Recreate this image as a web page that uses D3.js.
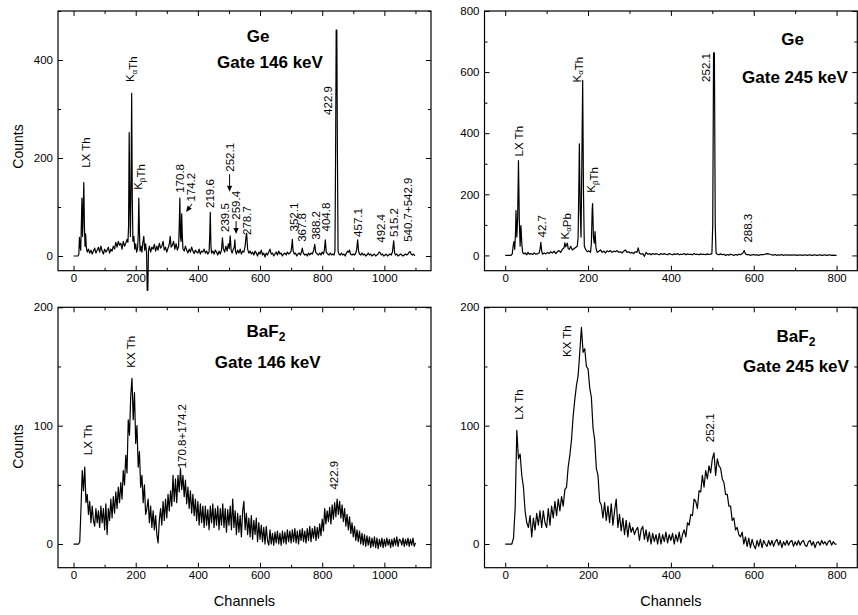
<!DOCTYPE html>
<html><head><meta charset="utf-8">
<script src="https://cdn.jsdelivr.net/npm/d3@7"></script>
<style>body{margin:0;background:#fff;} svg text{font-family:"Liberation Sans",Arial,Helvetica,sans-serif;}</style>
</head><body><svg id="c" width="858" height="615"></svg>
<script>
// ---------- DATA ----------
// Ge detector, gate 146 keV : [channel, counts]
const ge146 = [[0,0],[8,0],[14,0],[17,3],[19,38],[21,20],[23,12],[25,60],[27,118],[29,40],[31,90],[33,150],[35,60],[37,20],[39,45],[41,18],[44,8],[48,14],[52,6],[56,12],[60,4],[64,10],[68,16],[72,6],[76,12],[80,18],[84,8],[88,20],[92,10],[96,4],[100,14],[104,8],[108,12],[112,18],[116,6],[120,14],[124,10],[128,20],[132,14],[136,28],[140,18],[144,30],[148,22],[152,26],[156,14],[160,30],[164,20],[168,26],[172,34],[175,28],[177,60],[179,252],[181,110],[183,40],[185,150],[187,332],[189,120],[191,30],[194,40],[197,14],[200,25],[203,8],[206,15],[208,40],[210,118],[212,50],[214,10],[217,20],[220,8],[223,28],[226,40],[229,12],[232,25],[235,5],[237,-70],[239,-70],[241,10],[244,20],[248,8],[252,18],[256,14],[260,24],[264,10],[268,20],[272,12],[276,26],[280,16],[284,20],[288,30],[292,12],[296,18],[300,8],[304,16],[308,24],[311,40],[314,18],[318,22],[322,30],[326,14],[330,25],[334,12],[338,20],[340,60],[342,118],[344,40],[346,30],[348,86],[350,40],[352,15],[356,10],[360,20],[364,12],[368,6],[372,14],[376,8],[380,18],[384,10],[388,5],[392,12],[396,8],[400,6],[404,14],[408,4],[412,10],[416,8],[420,14],[424,6],[428,10],[432,4],[436,8],[438,40],[440,89],[442,20],[444,6],[448,10],[452,4],[456,12],[460,8],[464,2],[468,10],[472,4],[476,12],[479,37],[482,15],[486,8],[490,20],[494,10],[498,25],[501,15],[504,41],[507,12],[510,6],[514,14],[517,18],[519,33],[521,10],[524,4],[528,12],[532,6],[536,14],[540,4],[544,10],[548,8],[552,20],[555,40],[557,46],[560,14],[564,6],[568,10],[572,4],[576,8],[580,2],[584,10],[588,6],[592,0],[596,8],[600,4],[604,12],[608,2],[612,6],[616,-2],[620,6],[624,2],[628,8],[632,14],[636,4],[640,6],[644,0],[648,4],[652,8],[656,2],[660,10],[664,4],[668,6],[672,0],[676,4],[680,6],[684,2],[688,8],[692,4],[696,6],[700,10],[702,20],[704,34],[706,12],[710,4],[714,6],[718,0],[722,4],[726,6],[730,2],[733,8],[736,16],[739,6],[744,2],[748,4],[752,0],[756,6],[760,2],[764,6],[768,4],[772,10],[776,24],[779,8],[784,4],[788,2],[792,6],[796,2],[800,8],[804,4],[807,12],[810,33],[813,8],[818,4],[822,2],[826,6],[830,2],[834,4],[838,2],[841,10],[843,200],[845,461],[847,461],[849,200],[851,10],[854,4],[858,2],[862,6],[866,2],[870,4],[874,0],[878,6],[882,10],[885,8],[888,12],[891,4],[896,2],[900,4],[904,2],[908,6],[911,14],[914,33],[917,10],[920,4],[924,2],[928,6],[932,2],[936,4],[940,0],[944,2],[948,6],[952,2],[956,4],[960,0],[964,2],[968,4],[972,0],[976,2],[980,4],[983,8],[986,7],[990,2],[994,4],[998,0],[1002,2],[1006,4],[1010,0],[1014,2],[1018,4],[1022,2],[1026,8],[1028,20],[1030,31],[1033,6],[1036,2],[1040,4],[1044,0],[1048,2],[1052,4],[1056,2],[1060,0],[1064,2],[1068,4],[1072,2],[1076,4],[1080,8],[1083,9],[1086,4],[1090,2],[1094,4],[1098,0]];

// Ge detector, gate 245 keV : [channel, counts]
const ge245 = [[0,0],[8,0],[14,0],[17,5],[19,30],[21,45],[23,20],[25,80],[26,147],[28,60],[30,120],[32,310],[34,120],[36,30],[38,98],[40,40],[42,10],[45,5],[48,8],[52,2],[55,10],[58,4],[62,6],[66,3],[70,8],[74,4],[78,6],[82,8],[84,20],[86,43],[88,15],[90,4],[94,8],[98,5],[102,10],[106,6],[110,12],[114,8],[118,14],[122,6],[126,12],[130,16],[134,10],[138,20],[142,25],[144,41],[146,28],[148,35],[150,40],[152,22],[155,20],[158,30],[162,18],[166,22],[170,26],[174,30],[176,60],[178,250],[179,365],[181,150],[183,60],[185,300],[187,573],[189,200],[191,30],[194,20],[198,12],[202,15],[206,10],[208,40],[210,150],[211,170],[213,60],[215,40],[217,78],[219,25],[222,10],[226,14],[230,18],[234,10],[238,14],[242,8],[246,15],[250,12],[254,16],[258,10],[262,14],[266,12],[270,16],[274,10],[278,12],[282,8],[286,14],[290,18],[294,10],[298,12],[302,8],[306,10],[310,6],[314,12],[318,10],[321,25],[324,8],[328,4],[332,6],[336,-3],[340,10],[344,4],[348,6],[352,2],[356,6],[360,3],[364,6],[368,4],[372,2],[376,6],[380,3],[384,6],[388,4],[392,2],[396,6],[400,4],[404,2],[408,5],[412,3],[416,6],[420,2],[424,4],[428,3],[432,6],[436,2],[440,5],[444,3],[448,4],[452,2],[456,6],[460,3],[464,4],[468,2],[472,5],[476,3],[480,4],[484,2],[488,5],[492,3],[496,4],[499,6],[501,100],[503,663],[505,663],[507,100],[509,8],[512,4],[516,2],[520,5],[524,2],[528,4],[532,0],[536,3],[540,1],[544,4],[548,2],[552,0],[556,3],[560,1],[564,4],[568,2],[572,6],[575,10],[577,16],[580,5],[584,2],[588,3],[592,0],[596,2],[600,3],[604,1],[608,2],[612,0],[616,3],[620,2],[624,3],[628,4],[632,6],[636,5],[640,3],[644,2],[648,1],[652,3],[656,0],[660,2],[664,1],[668,3],[672,0],[676,2],[680,1],[684,2],[688,0],[692,2],[696,1],[700,2],[704,0],[708,1],[712,2],[716,0],[720,1],[724,2],[728,0],[732,1],[736,2],[740,0],[744,1],[748,2],[752,0],[756,1],[760,2],[764,0],[768,1],[772,2],[776,0],[780,1],[784,2],[788,0],[792,1],[796,0],[800,0]];

// BaF2 detector, gate 146 keV : counts every 4 channels from channel 0
const baf146Step = 4;
const baf146Counts = [
0,0,0,0,0,2,30,62,45,65,
35,42,25,36,18,32,20,15,30,18,
28,14,32,18,30,12,34,8,30,20,
38,22,40,26,44,30,48,35,52,38,
62,50,75,60,105,92,125,140,105,128,
85,100,65,78,48,58,35,50,25,30,
38,18,32,14,28,12,24,8,1,20,
30,16,36,20,38,22,42,28,45,32,
58,36,55,35,58,44,64,46,58,40,
54,34,48,30,45,26,42,24,38,20,
36,16,34,18,32,14,32,16,29,12,
32,18,34,14,30,16,32,12,30,16,
34,14,30,10,29,16,32,12,38,14,
28,8,26,10,24,6,28,36,12,26,
8,22,6,24,4,20,8,22,2,18,
4,16,2,14,0,15,3,-1,12,0,
9,-1,10,1,11,0,9,-1,11,1,
10,0,12,2,11,1,12,2,13,1,
11,0,12,3,13,2,11,1,13,3,
15,2,13,5,15,3,14,5,17,7,
21,11,30,17,28,19,31,17,33,21,
35,23,38,25,36,22,33,19,30,15,
25,12,23,9,18,6,15,3,12,2,
11,0,9,-1,8,-2,7,-1,6,-3,
5,-2,6,-3,5,-4,4,-2,5,-3,
4,-2,5,-1,4,-3,4,-2,5,-1,
6,-2,4,3,-1,5,-2,4,-1,5,
-2,4,-1,5,-2,1];

// BaF2 detector, gate 245 keV : counts every 4 channels from channel 0
const baf245Step = 4;
const baf245Counts = [
0,0,0,0,0,5,30,96,72,76,
58,48,28,18,14,24,6,22,12,26,
16,28,14,28,18,14,30,16,32,22,
36,24,38,28,40,32,46,48,65,75,
88,108,122,134,142,162,183,162,165,150,
148,132,124,98,88,64,58,36,33,22,
35,20,32,18,34,16,28,38,14,25,
11,22,8,20,6,18,10,14,8,12,
14,3,12,15,4,12,2,10,0,9,
2,8,0,9,0,8,2,10,1,8,
3,9,0,8,2,10,1,8,12,6,
18,16,25,24,38,36,30,45,44,58,
48,62,55,66,60,72,77,58,72,66,
64,55,52,42,42,32,32,20,22,12,
14,8,6,10,0,6,-2,5,-3,4,
-1,-4,3,-2,4,-3,3,0,-2,3,
-1,3,-2,2,4,-1,3,-3,2,-1,
3,-1,2,3,-2,2,-1,3,-1,2,
3,-1,-2,2,3,-1,2,-3,1,2,
-1,3,0,2,-1,2,3,-1,2,0,
0];

// Peak labels : [text ({..} = subscript), channel, counts where text starts]
const ge146Labels = [["LX Th",39,180],["K{α}Th",181,355],["K{β}Th",207,135],["170.8",341,129],["174.2",379,111],["219.6",438,98],["239.5",486,49],["252.1",502,172],["259.4",523,74],["278.7",557,43],["352.1",710,50],["367.8",735,29],["388.2",780,33],["404.8",812,50],["422.9",818,288],["457.1",914,39],["492.4",989,27],["515.2",1031,39],["540.7+542.9",1074,29]];
const ge146Arrows = [[381,106,362,90],[502,167,502,131],[523,71,523,45]];
const ge245Labels = [["LX Th",32,324],["42.7",88,59],["K{α}Pb",143,52],["K{α}Th",172,566],["K{β}Th",207,205],["252.1",485,568],["288.3",585,42]];
const baf146Labels = [["LX Th",47,75],["KX Th",186,149],["170.8+174.2",350,64],["422.9",839,46]];
const baf245Labels = [["LX Th",34,105],["KX Th",150,158],["252.1",495,86]];

const xTicksWide = [0,200,400,600,800,1000];
const xMinorWide = [100,300,500,700,900,1100];
const xTicksNarrow = [0,200,400,600,800];
const xMinorNarrow = [100,300,500,700];

// ---------- DRAWING ----------
const svg = d3.select("#c");
svg.append("rect").attr("width",858).attr("height",615).attr("fill","#fff");

function addLabelText(sel, str){
  const parts = str.split(/(\{[^}]*\})/).filter(s=>s.length);
  parts.forEach(p=>{
    if(p[0]==="{"){
      sel.append("tspan").attr("font-size","8px").attr("dy","0.35em").text(p.slice(1,-1));
      sel.append("tspan").attr("dy","-0.35em").attr("font-size","11.5px").text("");
    } else {
      sel.append("tspan").text(p);
    }
  });
}

function panel(o){
  const b = o.box;
  const x = d3.scaleLinear().domain(o.xDomain).range([b.l, b.r]);
  const y = d3.scaleLinear().domain(o.yDomain).range([b.b, b.t]);
  const g = svg.append("g");

  function styleAxis(a){
    a.select(".domain").remove();
    a.selectAll("line").attr("stroke","#000").attr("stroke-width",1);
    a.selectAll("text").attr("font-size","11.5px").attr("fill","#000")
      .attr("font-family","'Liberation Sans',Arial,sans-serif");
  }
  const fmt = d3.format("d");
  styleAxis(g.append("g").attr("transform",`translate(0,${b.b})`)
    .call(d3.axisBottom(x).tickValues(o.xMajor).tickSize(-5).tickPadding(3.5).tickFormat(fmt)));
  styleAxis(g.append("g").attr("transform",`translate(0,${b.b})`)
    .call(d3.axisBottom(x).tickValues(o.xMinor).tickSize(-3).tickFormat("")));
  styleAxis(g.append("g").attr("transform",`translate(0,${b.t})`)
    .call(d3.axisTop(x).tickValues(o.xMajor).tickSize(-5).tickFormat("")));
  styleAxis(g.append("g").attr("transform",`translate(0,${b.t})`)
    .call(d3.axisTop(x).tickValues(o.xMinor).tickSize(-3).tickFormat("")));
  styleAxis(g.append("g").attr("transform",`translate(${b.l},0)`)
    .call(d3.axisLeft(y).tickValues(o.yMajor).tickSize(-5).tickPadding(5).tickFormat(fmt)));
  styleAxis(g.append("g").attr("transform",`translate(${b.l},0)`)
    .call(d3.axisLeft(y).tickValues(o.yMinor).tickSize(-3).tickFormat("")));
  styleAxis(g.append("g").attr("transform",`translate(${b.r},0)`)
    .call(d3.axisRight(y).tickValues(o.yMajor).tickSize(-5).tickFormat("")));
  styleAxis(g.append("g").attr("transform",`translate(${b.r},0)`)
    .call(d3.axisRight(y).tickValues(o.yMinor).tickSize(-3).tickFormat("")));

  const line = d3.line().x(d=>x(d[0])).y(d=>y(d[1]));
  g.append("path").datum(o.data).attr("d",line).attr("fill","none")
    .attr("stroke","#000").attr("stroke-width",1.2).attr("stroke-linejoin","round");

  g.append("rect").attr("x",b.l).attr("y",b.t).attr("width",b.r-b.l).attr("height",b.b-b.t)
    .attr("fill","none").attr("stroke","#000").attr("stroke-width",1.2);

  o.labels.forEach(L=>{
    const t = g.append("text")
      .attr("transform",`translate(${x(L[1])},${y(L[2])}) rotate(-90)`)
      .attr("dy","0.36em").attr("font-size","11.5px").attr("fill","#000");
    addLabelText(t, L[0]);
  });
  (o.arrows||[]).forEach(A=>{
    const x1=x(A[0]), y1=y(A[1]), x2=x(A[2]), y2=y(A[3]);
    const ang = Math.atan2(y2-y1, x2-x1);
    const len=6, hw=2.6;
    const bx = x2 - len*Math.cos(ang), by = y2 - len*Math.sin(ang);
    g.append("line").attr("x1",x1).attr("y1",y1).attr("x2",bx).attr("y2",by)
      .attr("stroke","#000").attr("stroke-width",1);
    const px = -Math.sin(ang), py = Math.cos(ang);
    g.append("path").attr("d",`M${x2},${y2}L${bx+hw*px},${by+hw*py}L${bx-hw*px},${by-hw*py}Z`).attr("fill","#000");
  });

  o.titles.forEach(T=>{
    const t = g.append("text").attr("x",T.x).attr("y",T.y).attr("text-anchor","middle")
      .attr("font-size","17px").attr("font-weight","bold").attr("fill","#000");
    t.append("tspan").text(T.text);
    if(T.sub){ t.append("tspan").attr("font-size","12px").attr("dy","4").text(T.sub); }
  });

  if(o.yTitle){
    g.append("text").attr("transform",`translate(${18},${o.yTitle}) rotate(-90)`)
      .attr("text-anchor","middle").attr("dy","0.36em").attr("font-size","14px").attr("fill","#000").text("Counts");
  }
  if(o.xTitle){
    g.append("text").attr("x",(b.l+b.r)/2).attr("y",606).attr("text-anchor","middle")
      .attr("font-size","14.5px").attr("fill","#000").text("Channels");
  }
}

const baf146 = baf146Counts.map((c,i)=>[i*baf146Step, c]);
const baf245 = baf245Counts.map((c,i)=>[i*baf245Step, c]);

const L = {l:58, r:431}, R = {l:484.5, r:857.3};
const T = {t:11, b:270.7}, B = {t:307.3, b:567.7};

panel({box:{...L,...T}, xDomain:[-50,1150], yDomain:[-30,500], xMajor:xTicksWide, xMinor:xMinorWide,
  yMajor:[0,200,400], yMinor:[100,300,500], data:ge146, labels:ge146Labels, arrows:ge146Arrows,
  titles:[{text:"Ge",x:258,y:41.7},{text:"Gate 146 keV",x:270,y:68.3}], yTitle:146.5});
panel({box:{...R,...T}, xDomain:[-50,850], yDomain:[-50,800], xMajor:xTicksNarrow, xMinor:xMinorNarrow,
  yMajor:[0,200,400,600,800], yMinor:[100,300,500,700], data:ge245, labels:ge245Labels,
  titles:[{text:"Ge",x:792.5,y:45},{text:"Gate 245 keV",x:795,y:83.3}]});
panel({box:{...L,...B}, xDomain:[-50,1150], yDomain:[-20,200], xMajor:xTicksWide, xMinor:xMinorWide,
  yMajor:[0,100,200], yMinor:[50,150], data:baf146, labels:baf146Labels,
  titles:[{text:"BaF",sub:"2",x:266,y:336.7},{text:"Gate 146 keV",x:267.7,y:368.3}], yTitle:446.5, xTitle:true});
panel({box:{...R,...B}, xDomain:[-50,850], yDomain:[-20,200], xMajor:xTicksNarrow, xMinor:xMinorNarrow,
  yMajor:[0,100,200], yMinor:[50,150], data:baf245, labels:baf245Labels,
  titles:[{text:"BaF",sub:"2",x:796,y:341.7},{text:"Gate 245 keV",x:796,y:371.7}], xTitle:true});
</script></body></html>
